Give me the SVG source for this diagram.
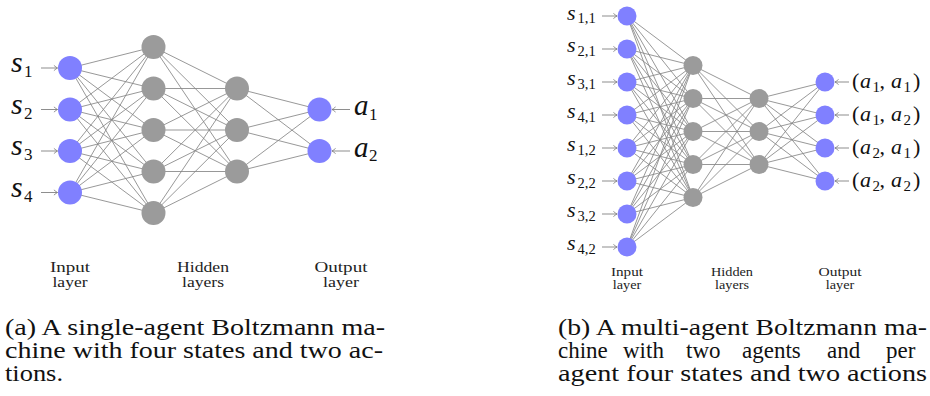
<svg xmlns="http://www.w3.org/2000/svg" width="930" height="396" viewBox="0 0 930 396">
<style>
.e{stroke:#858585;stroke-width:0.85;fill:none}
.ar{stroke:#7a7a7a;stroke-width:0.85;fill:none;marker-end:url(#ah)}
.in{fill:#8080ff}
.hd{fill:#9b9b9b}
.m{font-family:"Liberation Serif","Times New Roman",serif;font-style:italic;fill:#111}
.r{font-family:"Liberation Serif","Times New Roman",serif;fill:#111}
.sb{font-family:"Liberation Serif","Times New Roman",serif;font-style:normal;fill:#111}
.cap{font-family:"Liberation Serif","Times New Roman",serif;font-size:23px;fill:#111}
.ll{font-family:"Liberation Serif","Times New Roman",serif;font-size:15px;fill:#222;text-anchor:middle}
.lr{font-family:"Liberation Serif","Times New Roman",serif;font-size:11.5px;fill:#222;text-anchor:middle}
</style>
<defs>
<marker id="ah" viewBox="-5 -4 6 8" refX="0" refY="0" markerWidth="6" markerHeight="8" orient="auto" markerUnits="userSpaceOnUse" overflow="visible">
<path d="M-3.6,-2.6 Q-1.2,-0.6 0,0 Q-1.2,0.6 -3.6,2.6" fill="none" stroke="#7a7a7a" stroke-width="0.8"/>
</marker>
</defs>

<g id="connectors-a">
<line class="e" x1="70" y1="68" x2="153.5" y2="47"/><line class="e" x1="70" y1="68" x2="153.5" y2="88.5"/><line class="e" x1="70" y1="68" x2="153.5" y2="130"/><line class="e" x1="70" y1="68" x2="153.5" y2="171.5"/><line class="e" x1="70" y1="68" x2="153.5" y2="213"/>
<line class="e" x1="70" y1="109.5" x2="153.5" y2="47"/><line class="e" x1="70" y1="109.5" x2="153.5" y2="88.5"/><line class="e" x1="70" y1="109.5" x2="153.5" y2="130"/><line class="e" x1="70" y1="109.5" x2="153.5" y2="171.5"/><line class="e" x1="70" y1="109.5" x2="153.5" y2="213"/>
<line class="e" x1="70" y1="151" x2="153.5" y2="47"/><line class="e" x1="70" y1="151" x2="153.5" y2="88.5"/><line class="e" x1="70" y1="151" x2="153.5" y2="130"/><line class="e" x1="70" y1="151" x2="153.5" y2="171.5"/><line class="e" x1="70" y1="151" x2="153.5" y2="213"/>
<line class="e" x1="70" y1="192.5" x2="153.5" y2="47"/><line class="e" x1="70" y1="192.5" x2="153.5" y2="88.5"/><line class="e" x1="70" y1="192.5" x2="153.5" y2="130"/><line class="e" x1="70" y1="192.5" x2="153.5" y2="171.5"/><line class="e" x1="70" y1="192.5" x2="153.5" y2="213"/>
<line class="e" x1="153.5" y1="47" x2="237" y2="88.5"/><line class="e" x1="153.5" y1="47" x2="237" y2="130"/><line class="e" x1="153.5" y1="47" x2="237" y2="171.5"/>
<line class="e" x1="153.5" y1="88.5" x2="237" y2="88.5"/><line class="e" x1="153.5" y1="88.5" x2="237" y2="130"/><line class="e" x1="153.5" y1="88.5" x2="237" y2="171.5"/>
<line class="e" x1="153.5" y1="130" x2="237" y2="88.5"/><line class="e" x1="153.5" y1="130" x2="237" y2="130"/><line class="e" x1="153.5" y1="130" x2="237" y2="171.5"/>
<line class="e" x1="153.5" y1="171.5" x2="237" y2="88.5"/><line class="e" x1="153.5" y1="171.5" x2="237" y2="130"/><line class="e" x1="153.5" y1="171.5" x2="237" y2="171.5"/>
<line class="e" x1="153.5" y1="213" x2="237" y2="88.5"/><line class="e" x1="153.5" y1="213" x2="237" y2="130"/><line class="e" x1="153.5" y1="213" x2="237" y2="171.5"/>
<line class="e" x1="237" y1="88.5" x2="319.5" y2="109.5"/><line class="e" x1="237" y1="88.5" x2="319.5" y2="151"/>
<line class="e" x1="237" y1="130" x2="319.5" y2="109.5"/><line class="e" x1="237" y1="130" x2="319.5" y2="151"/>
<line class="e" x1="237" y1="171.5" x2="319.5" y2="109.5"/><line class="e" x1="237" y1="171.5" x2="319.5" y2="151"/>
<line class="ar" x1="41" y1="68" x2="57.5" y2="68"/><line class="ar" x1="41" y1="109.5" x2="57.5" y2="109.5"/><line class="ar" x1="41" y1="151" x2="57.5" y2="151"/><line class="ar" x1="41" y1="192.5" x2="57.5" y2="192.5"/>
<line class="ar" x1="350" y1="109.5" x2="332" y2="109.5"/><line class="ar" x1="350" y1="151" x2="332" y2="151"/>
</g>

<g id="connectors-b">
<line class="e" x1="627" y1="16" x2="693" y2="65.5"/><line class="e" x1="627" y1="16" x2="693" y2="98.5"/><line class="e" x1="627" y1="16" x2="693" y2="131.5"/><line class="e" x1="627" y1="16" x2="693" y2="164.5"/><line class="e" x1="627" y1="16" x2="693" y2="197.5"/>
<line class="e" x1="627" y1="49" x2="693" y2="65.5"/><line class="e" x1="627" y1="49" x2="693" y2="98.5"/><line class="e" x1="627" y1="49" x2="693" y2="131.5"/><line class="e" x1="627" y1="49" x2="693" y2="164.5"/><line class="e" x1="627" y1="49" x2="693" y2="197.5"/>
<line class="e" x1="627" y1="82" x2="693" y2="65.5"/><line class="e" x1="627" y1="82" x2="693" y2="98.5"/><line class="e" x1="627" y1="82" x2="693" y2="131.5"/><line class="e" x1="627" y1="82" x2="693" y2="164.5"/><line class="e" x1="627" y1="82" x2="693" y2="197.5"/>
<line class="e" x1="627" y1="115" x2="693" y2="65.5"/><line class="e" x1="627" y1="115" x2="693" y2="98.5"/><line class="e" x1="627" y1="115" x2="693" y2="131.5"/><line class="e" x1="627" y1="115" x2="693" y2="164.5"/><line class="e" x1="627" y1="115" x2="693" y2="197.5"/>
<line class="e" x1="627" y1="148" x2="693" y2="65.5"/><line class="e" x1="627" y1="148" x2="693" y2="98.5"/><line class="e" x1="627" y1="148" x2="693" y2="131.5"/><line class="e" x1="627" y1="148" x2="693" y2="164.5"/><line class="e" x1="627" y1="148" x2="693" y2="197.5"/>
<line class="e" x1="627" y1="181" x2="693" y2="65.5"/><line class="e" x1="627" y1="181" x2="693" y2="98.5"/><line class="e" x1="627" y1="181" x2="693" y2="131.5"/><line class="e" x1="627" y1="181" x2="693" y2="164.5"/><line class="e" x1="627" y1="181" x2="693" y2="197.5"/>
<line class="e" x1="627" y1="214" x2="693" y2="65.5"/><line class="e" x1="627" y1="214" x2="693" y2="98.5"/><line class="e" x1="627" y1="214" x2="693" y2="131.5"/><line class="e" x1="627" y1="214" x2="693" y2="164.5"/><line class="e" x1="627" y1="214" x2="693" y2="197.5"/>
<line class="e" x1="627" y1="247" x2="693" y2="65.5"/><line class="e" x1="627" y1="247" x2="693" y2="98.5"/><line class="e" x1="627" y1="247" x2="693" y2="131.5"/><line class="e" x1="627" y1="247" x2="693" y2="164.5"/><line class="e" x1="627" y1="247" x2="693" y2="197.5"/>
<line class="e" x1="693" y1="65.5" x2="759" y2="98.5"/><line class="e" x1="693" y1="65.5" x2="759" y2="131.5"/><line class="e" x1="693" y1="65.5" x2="759" y2="164.5"/>
<line class="e" x1="693" y1="98.5" x2="759" y2="98.5"/><line class="e" x1="693" y1="98.5" x2="759" y2="131.5"/><line class="e" x1="693" y1="98.5" x2="759" y2="164.5"/>
<line class="e" x1="693" y1="131.5" x2="759" y2="98.5"/><line class="e" x1="693" y1="131.5" x2="759" y2="131.5"/><line class="e" x1="693" y1="131.5" x2="759" y2="164.5"/>
<line class="e" x1="693" y1="164.5" x2="759" y2="98.5"/><line class="e" x1="693" y1="164.5" x2="759" y2="131.5"/><line class="e" x1="693" y1="164.5" x2="759" y2="164.5"/>
<line class="e" x1="693" y1="197.5" x2="759" y2="98.5"/><line class="e" x1="693" y1="197.5" x2="759" y2="131.5"/><line class="e" x1="693" y1="197.5" x2="759" y2="164.5"/>
<line class="e" x1="759" y1="98.5" x2="825" y2="82"/><line class="e" x1="759" y1="98.5" x2="825" y2="115"/><line class="e" x1="759" y1="98.5" x2="825" y2="148"/><line class="e" x1="759" y1="98.5" x2="825" y2="181"/>
<line class="e" x1="759" y1="131.5" x2="825" y2="82"/><line class="e" x1="759" y1="131.5" x2="825" y2="115"/><line class="e" x1="759" y1="131.5" x2="825" y2="148"/><line class="e" x1="759" y1="131.5" x2="825" y2="181"/>
<line class="e" x1="759" y1="164.5" x2="825" y2="82"/><line class="e" x1="759" y1="164.5" x2="825" y2="115"/><line class="e" x1="759" y1="164.5" x2="825" y2="148"/><line class="e" x1="759" y1="164.5" x2="825" y2="181"/>
<line class="ar" x1="602" y1="16" x2="617" y2="16"/><line class="ar" x1="602" y1="49" x2="617" y2="49"/><line class="ar" x1="602" y1="82" x2="617" y2="82"/><line class="ar" x1="602" y1="115" x2="617" y2="115"/><line class="ar" x1="602" y1="148" x2="617" y2="148"/><line class="ar" x1="602" y1="181" x2="617" y2="181"/><line class="ar" x1="602" y1="214" x2="617" y2="214"/><line class="ar" x1="602" y1="247" x2="617" y2="247"/>
<line class="ar" x1="849" y1="82" x2="835" y2="82"/><line class="ar" x1="849" y1="115" x2="835" y2="115"/><line class="ar" x1="849" y1="148" x2="835" y2="148"/><line class="ar" x1="849" y1="181" x2="835" y2="181"/>
</g>

<!-- Diagram (a) nodes -->
<g id="a-in1"><circle class="in" cx="70" cy="68" r="12"/><text class="m" x="11" y="72" font-size="30">s<tspan class="sb" font-size="17" x="24" y="77">1</tspan></text></g>
<g id="a-in2"><circle class="in" cx="70" cy="109.5" r="12"/><text class="m" x="11" y="113.5" font-size="30">s<tspan class="sb" font-size="17" x="24" y="118.5">2</tspan></text></g>
<g id="a-in3"><circle class="in" cx="70" cy="151" r="12"/><text class="m" x="11" y="155" font-size="30">s<tspan class="sb" font-size="17" x="24" y="160">3</tspan></text></g>
<g id="a-in4"><circle class="in" cx="70" cy="192.5" r="12"/><text class="m" x="11" y="196.5" font-size="30">s<tspan class="sb" font-size="17" x="24" y="201.5">4</tspan></text></g>
<g id="a-h1-1"><circle class="hd" cx="153.5" cy="47" r="12"/></g>
<g id="a-h1-2"><circle class="hd" cx="153.5" cy="88.5" r="12"/></g>
<g id="a-h1-3"><circle class="hd" cx="153.5" cy="130" r="12"/></g>
<g id="a-h1-4"><circle class="hd" cx="153.5" cy="171.5" r="12"/></g>
<g id="a-h1-5"><circle class="hd" cx="153.5" cy="213" r="12"/></g>
<g id="a-h2-1"><circle class="hd" cx="237" cy="88.5" r="12"/></g>
<g id="a-h2-2"><circle class="hd" cx="237" cy="130" r="12"/></g>
<g id="a-h2-3"><circle class="hd" cx="237" cy="171.5" r="12"/></g>
<g id="a-out1"><circle class="in" cx="319.5" cy="109.5" r="12"/><text class="m" x="354" y="115" font-size="29">a<tspan class="sb" font-size="17" x="369" y="119.5">1</tspan></text></g>
<g id="a-out2"><circle class="in" cx="319.5" cy="151" r="12"/><text class="m" x="354" y="156.5" font-size="29">a<tspan class="sb" font-size="17" x="369" y="161">2</tspan></text></g>
<g id="a-labels">
<text class="ll" x="70" y="272" textLength="40" lengthAdjust="spacingAndGlyphs">Input</text>
<text class="ll" x="70" y="287" textLength="35" lengthAdjust="spacingAndGlyphs">layer</text>
<text class="ll" x="203" y="272" textLength="52" lengthAdjust="spacingAndGlyphs">Hidden</text>
<text class="ll" x="203" y="287" textLength="42" lengthAdjust="spacingAndGlyphs">layers</text>
<text class="ll" x="341" y="272" textLength="53" lengthAdjust="spacingAndGlyphs">Output</text>
<text class="ll" x="341" y="287" textLength="36" lengthAdjust="spacingAndGlyphs">layer</text>
</g>

<!-- Diagram (b) nodes -->
<g id="b-in11"><circle class="in" cx="627" cy="16" r="9.5"/><text class="m" x="567" y="19.5" font-size="22">s<tspan class="sb" font-size="14.5" x="577.5" y="23">1,1</tspan></text></g>
<g id="b-in21"><circle class="in" cx="627" cy="49" r="9.5"/><text class="m" x="567" y="52" font-size="22">s<tspan class="sb" font-size="14.5" x="577.5" y="55.5">2,1</tspan></text></g>
<g id="b-in31"><circle class="in" cx="627" cy="82" r="9.5"/><text class="m" x="567" y="85" font-size="22">s<tspan class="sb" font-size="14.5" x="577.5" y="88.5">3,1</tspan></text></g>
<g id="b-in41"><circle class="in" cx="627" cy="115" r="9.5"/><text class="m" x="567" y="118" font-size="22">s<tspan class="sb" font-size="14.5" x="577.5" y="121.5">4,1</tspan></text></g>
<g id="b-in12"><circle class="in" cx="627" cy="148" r="9.5"/><text class="m" x="567" y="151" font-size="22">s<tspan class="sb" font-size="14.5" x="577.5" y="154.5">1,2</tspan></text></g>
<g id="b-in22"><circle class="in" cx="627" cy="181" r="9.5"/><text class="m" x="567" y="184" font-size="22">s<tspan class="sb" font-size="14.5" x="577.5" y="187.5">2,2</tspan></text></g>
<g id="b-in32"><circle class="in" cx="627" cy="214" r="9.5"/><text class="m" x="567" y="217" font-size="22">s<tspan class="sb" font-size="14.5" x="577.5" y="220.5">3,2</tspan></text></g>
<g id="b-in42"><circle class="in" cx="627" cy="247" r="9.5"/><text class="m" x="567" y="250" font-size="22">s<tspan class="sb" font-size="14.5" x="577.5" y="253.5">4,2</tspan></text></g>
<g id="b-h1-1"><circle class="hd" cx="693" cy="65.5" r="9.5"/></g>
<g id="b-h1-2"><circle class="hd" cx="693" cy="98.5" r="9.5"/></g>
<g id="b-h1-3"><circle class="hd" cx="693" cy="131.5" r="9.5"/></g>
<g id="b-h1-4"><circle class="hd" cx="693" cy="164.5" r="9.5"/></g>
<g id="b-h1-5"><circle class="hd" cx="693" cy="197.5" r="9.5"/></g>
<g id="b-h2-1"><circle class="hd" cx="759" cy="98.5" r="9.5"/></g>
<g id="b-h2-2"><circle class="hd" cx="759" cy="131.5" r="9.5"/></g>
<g id="b-h2-3"><circle class="hd" cx="759" cy="164.5" r="9.5"/></g>
<g id="b-out11"><circle class="in" cx="825" cy="82" r="9.5"/><text class="r" font-size="22" x="852" y="88">(<tspan font-style="italic" x="860">a</tspan><tspan font-size="15" x="872.5" y="92">1</tspan><tspan x="879.5" y="88">,</tspan><tspan font-style="italic" x="891">a</tspan><tspan font-size="15" x="903.5" y="92">1</tspan><tspan x="913" y="88">)</tspan></text></g>
<g id="b-out12"><circle class="in" cx="825" cy="115" r="9.5"/><text class="r" font-size="22" x="852" y="121">(<tspan font-style="italic" x="860">a</tspan><tspan font-size="15" x="872.5" y="125">1</tspan><tspan x="879.5" y="121">,</tspan><tspan font-style="italic" x="891">a</tspan><tspan font-size="15" x="903.5" y="125">2</tspan><tspan x="913" y="121">)</tspan></text></g>
<g id="b-out21"><circle class="in" cx="825" cy="148" r="9.5"/><text class="r" font-size="22" x="852" y="154">(<tspan font-style="italic" x="860">a</tspan><tspan font-size="15" x="872.5" y="158">2</tspan><tspan x="879.5" y="154">,</tspan><tspan font-style="italic" x="891">a</tspan><tspan font-size="15" x="903.5" y="158">1</tspan><tspan x="913" y="154">)</tspan></text></g>
<g id="b-out22"><circle class="in" cx="825" cy="181" r="9.5"/><text class="r" font-size="22" x="852" y="187">(<tspan font-style="italic" x="860">a</tspan><tspan font-size="15" x="872.5" y="191">2</tspan><tspan x="879.5" y="187">,</tspan><tspan font-style="italic" x="891">a</tspan><tspan font-size="15" x="903.5" y="191">2</tspan><tspan x="913" y="187">)</tspan></text></g>
<g id="b-labels">
<text class="lr" x="627" y="276" textLength="32" lengthAdjust="spacingAndGlyphs">Input</text>
<text class="lr" x="627" y="289" textLength="28.5" lengthAdjust="spacingAndGlyphs">layer</text>
<text class="lr" x="732" y="276" textLength="42" lengthAdjust="spacingAndGlyphs">Hidden</text>
<text class="lr" x="732" y="289" textLength="34" lengthAdjust="spacingAndGlyphs">layers</text>
<text class="lr" x="840" y="276" textLength="43" lengthAdjust="spacingAndGlyphs">Output</text>
<text class="lr" x="840" y="289" textLength="28.5" lengthAdjust="spacingAndGlyphs">layer</text>
</g>

<g id="caption-a">
<text class="cap" x="5" y="335" textLength="380" lengthAdjust="spacingAndGlyphs">(a) A single-agent Boltzmann ma-</text>
<text class="cap" x="5" y="358" textLength="378" lengthAdjust="spacingAndGlyphs">chine with four states and two ac-</text>
<text class="cap" x="5" y="381" textLength="58" lengthAdjust="spacingAndGlyphs">tions.</text>
</g>
<g id="caption-b">
<text class="cap" x="558" y="335" textLength="369" lengthAdjust="spacingAndGlyphs">(b) A multi-agent Boltzmann ma-</text>
<text class="cap" y="358"><tspan x="558">chine</tspan><tspan x="623">with</tspan><tspan x="686">two</tspan><tspan x="742">agents</tspan><tspan x="827">and</tspan><tspan x="886">per</tspan></text>
<text class="cap" x="558" y="381" textLength="369" lengthAdjust="spacingAndGlyphs">agent four states and two actions</text>
</g>
</svg>
